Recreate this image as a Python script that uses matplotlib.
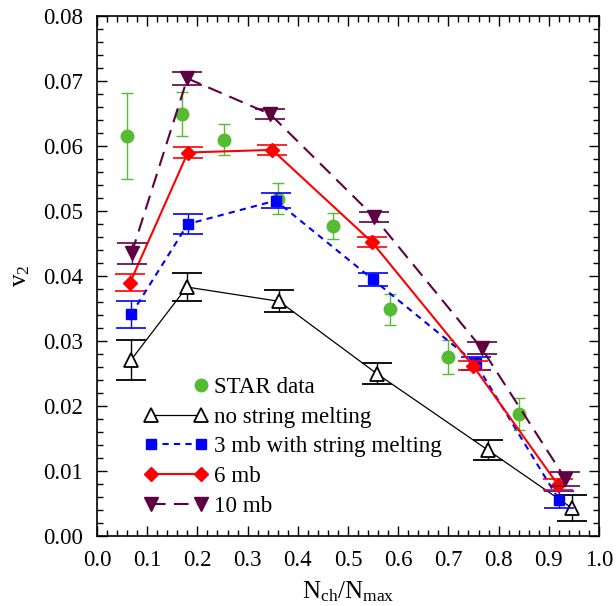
import matplotlib
matplotlib.use("Agg")
import matplotlib.pyplot as plt
from matplotlib.lines import Line2D
from matplotlib.legend_handler import HandlerLine2D
from matplotlib.ticker import MultipleLocator, FormatStrFormatter

plt.rcParams['font.family'] = ['Liberation Serif', 'DejaVu Serif']
plt.rcParams['mathtext.fontset'] = 'custom'
plt.rcParams['mathtext.rm'] = 'Liberation Serif'
plt.rcParams['mathtext.it'] = 'Liberation Serif:italic'

# STAR data
star_x = [0.060, 0.169, 0.252, 0.361, 0.471, 0.584, 0.700, 0.841]
star_y = [0.0616, 0.0649, 0.0610, 0.0519, 0.0477, 0.0349, 0.0275, 0.0188]
star_e = [0.0066, 0.0034, 0.0024, 0.0024, 0.0020, 0.0024, 0.0026, 0.0025]

# no string melting
ns_x = [0.068, 0.179, 0.363, 0.557, 0.779, 0.946]
ns_y = [0.0271, 0.0383, 0.0361, 0.0250, 0.0132, 0.0043]
ns_e = [0.0031, 0.0021, 0.0017, 0.0016, 0.0015, 0.0020]

# 3 mb with string melting
s3_x = [0.068, 0.181, 0.356, 0.549, 0.754, 0.920]
s3_y = [0.0341, 0.0480, 0.0516, 0.0395, 0.0266, 0.0056]
s3_e = [0.0021, 0.0015, 0.0012, 0.0010, 0.0010, 0.0013]

# 6 mb
s6_x = [0.066, 0.181, 0.349, 0.548, 0.749, 0.918]
s6_y = [0.0390, 0.0590, 0.0594, 0.0452, 0.0262, 0.0079]
s6_e = [0.0013, 0.0009, 0.0008, 0.0008, 0.0007, 0.0008]

# 10 mb
s10_x = [0.069, 0.180, 0.345, 0.552, 0.766, 0.933]
s10_y = [0.0435, 0.0704, 0.0649, 0.0491, 0.0289, 0.0088]
s10_e = [0.0016, 0.0010, 0.0008, 0.0008, 0.0009, 0.0011]

green = '#55bb33'
blue = '#0000ff'
red = '#ff0000'
purple = '#5e0042'


class RightMarkerHandler(HandlerLine2D):
    def create_artists(self, legend, orig_handle, xdescent, ydescent, width,
                       height, fontsize, trans):
        arts = super().create_artists(legend, orig_handle, xdescent, ydescent,
                                      width, height, fontsize, trans)
        for a in arts:
            if isinstance(a, Line2D):
                n = len(a.get_xdata())
                a.set_markevery([n - 1])
                a.set_linestyle('none')
        return arts


fig = plt.figure(figsize=(6.16, 6.06), dpi=100)
ax = fig.add_axes([97/616, 1-536/606, 502/616, 520/606])

ax.errorbar(star_x, star_y, yerr=star_e, fmt='o', color=green, ms=9,
            elinewidth=1, capsize=4, capthick=1, zorder=3)
ax.errorbar(ns_x, ns_y, yerr=ns_e, fmt='-^', color='black', mfc='white',
            mec='black', mew=1.3, ms=10, lw=0.9, elinewidth=1, capsize=11,
            capthick=1.2, zorder=4)
ax.errorbar(s3_x, s3_y, yerr=s3_e, fmt='s', ls=(0, (3, 2.5)), color=blue,
            ms=7.5, lw=1.5, elinewidth=1, capsize=11, capthick=1.2, zorder=5)
ax.errorbar(s6_x, s6_y, yerr=s6_e, fmt='D-', color=red, ms=7,
            lw=1.5, elinewidth=1, capsize=11, capthick=1.2, zorder=6)
ax.errorbar(s10_x, s10_y, yerr=s10_e, fmt='v', ls=(0, (7, 4)), color=purple,
            ms=10, lw=1.5, elinewidth=1, capsize=11, capthick=1.2, zorder=7)

ax.set_xlim(0, 1.0)
ax.set_ylim(0, 0.08)
ax.xaxis.set_major_locator(MultipleLocator(0.1))
ax.xaxis.set_minor_locator(MultipleLocator(0.02))
ax.yaxis.set_major_locator(MultipleLocator(0.01))
ax.yaxis.set_minor_locator(MultipleLocator(0.002))
ax.xaxis.set_major_formatter(FormatStrFormatter('%.1f'))
ax.yaxis.set_major_formatter(FormatStrFormatter('%.2f'))
ax.tick_params(which='both', direction='in', top=True, right=True, labelsize=16.5,
               width=1)
ax.tick_params(which='major', length=7, pad=10)
ax.tick_params(which='minor', length=4)
for s in ax.spines.values():
    s.set_linewidth(1.2)

ax.set_xlabel(r'N$_{\rm ch}$/N$_{\rm max}$', fontsize=18, labelpad=6)
ax.set_ylabel(r'v$_2$', fontsize=18, labelpad=8)

h_star = Line2D([0], [0], ls='none', marker='o', color=green, ms=9)
handles = [
    h_star,
    Line2D([0], [0], ls='-', marker='^', color='black', mfc='white', mec='black',
           mew=1.3, ms=10, lw=0.9),
    Line2D([0], [0], ls=(0, (3, 2.5)), marker='s', color=blue, ms=7.5, lw=1.5),
    Line2D([0], [0], ls='-', marker='D', color=red, ms=7, lw=1.5),
    Line2D([0], [0], ls=(0, (7, 4)), marker='v', color=purple, ms=10, lw=1.5),
]
labels = ['STAR data', 'no string melting', '3 mb with string melting', '6 mb', '10 mb']
ax.legend(handles, labels, loc='upper left', bbox_to_anchor=(0.093, 0.306),
          frameon=False, fontsize=16.6, numpoints=2, handlelength=2.77,
          handletextpad=0.28, labelspacing=0.37, borderpad=0, borderaxespad=0,
          handler_map={h_star: RightMarkerHandler(numpoints=2)})

fig.savefig('out.png', dpi=100)
